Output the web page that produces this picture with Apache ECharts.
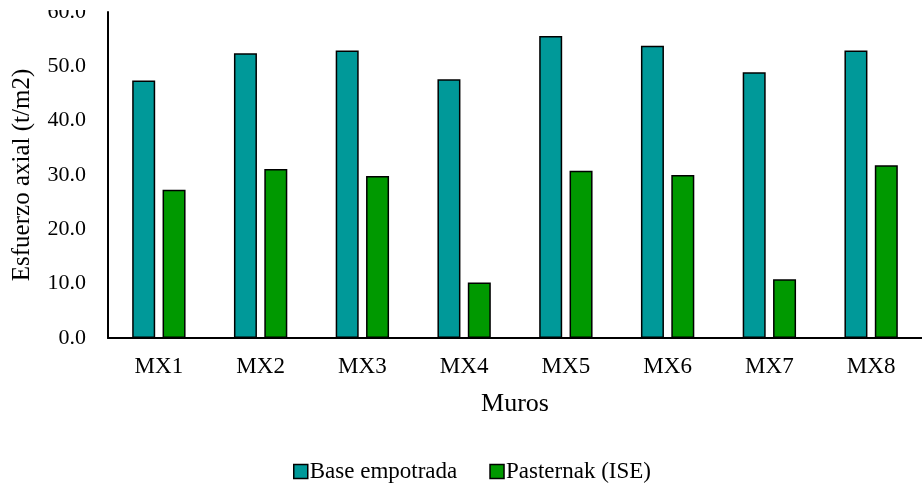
<!DOCTYPE html>
<html>
<head>
<meta charset="utf-8">
<script src="https://cdn.jsdelivr.net/npm/echarts@6/dist/echarts.min.js"></script>
<style>
  html, body { margin: 0; padding: 0; background: #fff; }
  #chart { width: 922px; height: 486px; }
</style>
</head>
<body>
<div id="chart"></div>
<script>
// Axial stress per wall, fixed base vs. Pasternak soil-structure interaction
const categories = ['MX1', 'MX2', 'MX3', 'MX4', 'MX5', 'MX6', 'MX7', 'MX8'];
const baseEmpotrada = [47.4, 52.4, 52.9, 47.6, 55.6, 53.8, 48.9, 52.9];
const pasternakISE = [27.3, 31.1, 29.8, 10.2, 30.8, 30.0, 10.8, 31.8];
const yTicks = { min: 0, max: 60, interval: 10 };

const font = 'Liberation Serif';
const chart = echarts.init(document.getElementById('chart'));

chart.setOption({
  animation: false,
  textStyle: { fontFamily: font, color: '#000' },
  grid: { left: 108, top: 12, width: 823, height: 326, containLabel: false },
  legend: {
    top: 455,
    left: 288,
    icon: 'rect',
    itemWidth: 14,
    itemHeight: 14,
    itemGap: 32,
    textStyle: { fontFamily: font, fontSize: 23, color: '#000', padding: [0, 0, 0, -3] },
    data: [
      { name: 'Base empotrada', itemStyle: { borderColor: '#000', borderWidth: 1.5 } },
      { name: 'Pasternak (ISE)', itemStyle: { borderColor: '#000', borderWidth: 1.5 } }
    ]
  },
  xAxis: {
    type: 'category',
    data: categories,
    name: 'Muros',
    nameLocation: 'middle',
    nameGap: 53,
    nameTextStyle: { fontFamily: font, fontSize: 26, color: '#000' },
    axisLine: { lineStyle: { color: '#000', width: 2 } },
    axisTick: { show: false },
    axisLabel: { fontFamily: font, fontSize: 23, color: '#000', margin: 17 }
  },
  yAxis: {
    type: 'value',
    min: yTicks.min,
    max: yTicks.max,
    interval: yTicks.interval,
    name: 'Esfuerzo axial (t/m2)',
    nameLocation: 'middle',
    nameGap: 73,
    nameTextStyle: { fontFamily: font, fontSize: 25, color: '#000' },
    axisLine: { show: true, lineStyle: { color: '#000', width: 2 } },
    axisTick: { show: false },
    splitLine: { show: false },
    axisLabel: {
      fontFamily: font, fontSize: 22, color: '#000', margin: 22,
      formatter: v => v.toFixed(1)
    }
  },
  // the figure is trimmed along its top edge
  graphic: [{
    type: 'rect',
    z: 100,
    shape: { x: 0, y: 0, width: 922, height: 10 },
    style: { fill: '#fff' }
  }],
  series: [
    {
      name: 'Base empotrada',
      type: 'bar',
      data: baseEmpotrada,
      barWidth: 23,
      barGap: '32%',
      itemStyle: { color: '#009999', borderColor: '#000', borderWidth: 1.5 }
    },
    {
      name: 'Pasternak (ISE)',
      type: 'bar',
      data: pasternakISE,
      barWidth: 23,
      barGap: '32%',
      itemStyle: { color: '#009900', borderColor: '#000', borderWidth: 1.5 }
    }
  ]
});
</script>
</body>
</html>
